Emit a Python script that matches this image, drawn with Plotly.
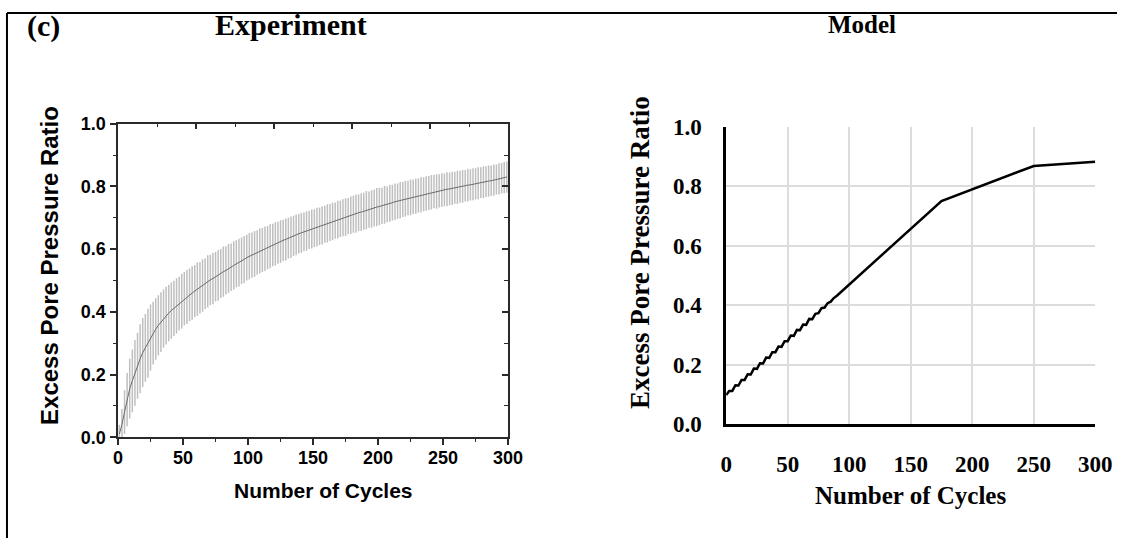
import plotly.graph_objects as go

W, H = 1134, 551

# The photographed page shows the figure slightly shifted and scaled;
# reference pixel positions are mapped to figure pixels with this measured map.
SX, OX = 0.9795, 6.0
SY, OY = 0.953, 12.5

# ---------------- data ----------------
cycles = list(range(1, 300, 2))
exp_mean = [
    0.010, 0.040, 0.080, 0.120, 0.155, 0.180, 0.205, 0.228, 0.250, 0.270,
    0.285, 0.300, 0.318, 0.332, 0.345, 0.357, 0.367, 0.378, 0.388, 0.396,
    0.404, 0.411, 0.419, 0.426, 0.434, 0.442, 0.447, 0.454, 0.460, 0.466,
    0.472, 0.477, 0.484, 0.490, 0.497, 0.502, 0.506, 0.512, 0.516, 0.522,
    0.528, 0.532, 0.538, 0.542, 0.548, 0.553, 0.557, 0.563, 0.567, 0.573,
    0.577, 0.581, 0.585, 0.589, 0.594, 0.597, 0.601, 0.605, 0.609, 0.613,
    0.617, 0.620, 0.624, 0.628, 0.631, 0.635, 0.638, 0.642, 0.645, 0.649,
    0.652, 0.655, 0.658, 0.661, 0.664, 0.667, 0.670, 0.673, 0.676, 0.679,
    0.682, 0.685, 0.688, 0.691, 0.694, 0.697, 0.700, 0.702, 0.705, 0.708,
    0.711, 0.713, 0.716, 0.718, 0.721, 0.724, 0.726, 0.728, 0.731, 0.734,
    0.736, 0.738, 0.741, 0.743, 0.746, 0.748, 0.751, 0.753, 0.756, 0.758,
    0.761, 0.763, 0.765, 0.767, 0.769, 0.771, 0.773, 0.775, 0.777, 0.779,
    0.781, 0.783, 0.784, 0.786, 0.788, 0.789, 0.791, 0.792, 0.794, 0.796,
    0.797, 0.799, 0.800, 0.802, 0.804, 0.805, 0.807, 0.808, 0.810, 0.812,
    0.813, 0.815, 0.817, 0.818, 0.820, 0.822, 0.824, 0.826, 0.828, 0.830,
]
exp_err = [
    0.030, 0.050, 0.070, 0.085, 0.095, 0.100, 0.105, 0.105, 0.110, 0.110,
    0.108, 0.110, 0.105, 0.100, 0.098, 0.096, 0.095, 0.093, 0.092, 0.090,
    0.090, 0.088, 0.088, 0.086, 0.087, 0.085, 0.086, 0.084, 0.085, 0.083,
    0.085, 0.082, 0.084, 0.081, 0.083, 0.080, 0.082, 0.079, 0.081, 0.078,
    0.080, 0.077, 0.078, 0.076, 0.077, 0.075, 0.076, 0.074, 0.075, 0.073,
    0.074, 0.072, 0.073, 0.071, 0.072, 0.070, 0.071, 0.069, 0.070, 0.068,
    0.069, 0.067, 0.068, 0.066, 0.067, 0.065, 0.066, 0.064, 0.065, 0.063,
    0.064, 0.062, 0.063, 0.061, 0.062, 0.060, 0.062, 0.060, 0.061, 0.059,
    0.061, 0.059, 0.060, 0.058, 0.060, 0.058, 0.059, 0.060, 0.058, 0.060,
    0.059, 0.061, 0.058, 0.060, 0.059, 0.061, 0.058, 0.060, 0.059, 0.061,
    0.060, 0.058, 0.060, 0.057, 0.059, 0.057, 0.058, 0.056, 0.058, 0.056,
    0.057, 0.055, 0.057, 0.055, 0.056, 0.054, 0.056, 0.054, 0.055, 0.054,
    0.055, 0.053, 0.055, 0.053, 0.054, 0.052, 0.054, 0.052, 0.053, 0.051,
    0.053, 0.051, 0.052, 0.050, 0.052, 0.050, 0.051, 0.050, 0.051, 0.049,
    0.051, 0.049, 0.050, 0.049, 0.050, 0.048, 0.050, 0.049, 0.050, 0.050,
]

model_cycles = [0, 2.5, 5, 7.5, 10, 12.5, 15, 17.5, 20, 22.5, 25, 27.5, 30,
                32.5, 35, 37.5, 40, 42.5, 45, 47.5, 50, 52.5, 55, 57.5, 60,
                62.5, 65, 67.5, 70, 72.5, 75, 77.5, 80, 82.5, 85, 87.5, 90,
                175, 250, 300]
model_ratio = [0.098, 0.112, 0.112, 0.131, 0.130, 0.149, 0.149, 0.168, 0.167,
               0.187, 0.186, 0.205, 0.204, 0.224, 0.223, 0.242, 0.242, 0.261,
               0.260, 0.279, 0.279, 0.298, 0.297, 0.317, 0.316, 0.335, 0.334,
               0.354, 0.353, 0.371, 0.373, 0.390, 0.392, 0.407, 0.412, 0.424,
               0.432, 0.750, 0.868, 0.882]

x_ticks = [0, 50, 100, 150, 200, 250, 300]
y_ticks = [0.0, 0.2, 0.4, 0.6, 0.8, 1.0]

# ---------------- helpers (reference pixel -> paper fraction) ----------------
def fx(p):
    return ((p - OX) / SX) / W

def fy(p):
    return 1 - ((p - OY) / SY) / H

SANS = "Liberation Sans, Arial, sans-serif"
SERIF = "Liberation Serif, Times New Roman, serif"

fig = go.Figure()

# Experiment: error bars (behind) and mean line
fig.add_trace(go.Scatter(
    x=cycles, y=exp_mean, mode="markers",
    marker=dict(size=1, opacity=0),
    error_y=dict(type="data", array=exp_err, visible=True,
                 color="#bfbfbf", thickness=1.5, width=0),
    xaxis="x", yaxis="y", hoverinfo="skip", showlegend=False))
fig.add_trace(go.Scatter(
    x=cycles, y=exp_mean, mode="lines",
    line=dict(color="#6a6a6a", width=1),
    xaxis="x", yaxis="y", showlegend=False))
# dummy for mirror axes
fig.add_trace(go.Scatter(x=[None], y=[None], xaxis="x2", yaxis="y2",
                         showlegend=False, hoverinfo="skip"))

# Model
fig.add_trace(go.Scatter(
    x=model_cycles, y=model_ratio, mode="lines",
    line=dict(color="black", width=2.5),
    xaxis="x3", yaxis="y3", showlegend=False))

L_dom_x = [fx(118), fx(508)]
L_dom_y = [fy(437), fy(124)]
R_dom_x = [fx(726), fx(1095)]
R_dom_y = [fy(424), fy(127)]

axis_col = "#2a2a2a"
sans_tick = dict(family=SANS, size=18, color="black", weight="bold")
serif_tick = dict(family=SERIF, size=23, color="black", weight="bold")

fig.update_layout(
    width=W, height=H,
    margin=dict(l=0, r=0, t=0, b=0),
    paper_bgcolor="white", plot_bgcolor="white",
    showlegend=False,
    xaxis=dict(domain=L_dom_x, range=[0, 300], anchor="y",
               tickvals=x_ticks, ticks="outside", ticklen=6, tickwidth=1.5,
               tickcolor=axis_col,
               minor=dict(tickvals=[25, 75, 125, 175, 225, 275],
                          ticks="outside", ticklen=3, tickwidth=1.2,
                          tickcolor=axis_col),
               showline=True, linecolor=axis_col, linewidth=1.5,
               showgrid=False, zeroline=False, tickfont=sans_tick,
               ticklabelstandoff=-3),
    yaxis=dict(domain=L_dom_y, range=[0, 1], anchor="x",
               tickvals=y_ticks, tickformat=".1f", ticks="outside",
               ticklen=6, tickwidth=1.5, tickcolor=axis_col,
               minor=dict(tickvals=[0.1, 0.3, 0.5, 0.7, 0.9],
                          ticks="outside", ticklen=3, tickwidth=1.2,
                          tickcolor=axis_col),
               showline=True, linecolor=axis_col, linewidth=1.5,
               showgrid=False, zeroline=False, tickfont=sans_tick,
               ticklabelstandoff=1),
    xaxis2=dict(domain=L_dom_x, range=[0, 300], anchor="y2",
                overlaying="x", side="top",
                tickvals=[60, 120, 180, 240], ticks="inside", ticklen=6,
                tickwidth=1.5, tickcolor=axis_col,
                minor=dict(tickvals=[30, 90, 150, 210, 270], ticks="inside",
                           ticklen=4, tickwidth=1.2, tickcolor=axis_col),
                showticklabels=False, showline=True, linecolor=axis_col,
                linewidth=1.5, showgrid=False, zeroline=False),
    yaxis2=dict(domain=L_dom_y, range=[0, 1], anchor="x2",
                overlaying="y", side="right",
                tickvals=[0.2, 0.4, 0.6, 0.8], ticks="inside", ticklen=6,
                tickwidth=1.5, tickcolor=axis_col,
                minor=dict(tickvals=[0.1, 0.3, 0.5, 0.7, 0.9], ticks="inside",
                           ticklen=4, tickwidth=1.2, tickcolor=axis_col),
                showticklabels=False, showline=True, linecolor=axis_col,
                linewidth=1.5, showgrid=False, zeroline=False),
    xaxis3=dict(domain=R_dom_x, range=[0, 300], anchor="y3",
                tickvals=x_ticks, ticks="", showgrid=True,
                gridcolor="#dcdcdc", gridwidth=2,
                showline=True, linecolor="black", linewidth=2.5,
                zeroline=False, tickfont=serif_tick, ticklabelstandoff=17),
    yaxis3=dict(domain=R_dom_y, range=[0, 1], anchor="x3",
                tickvals=y_ticks, tickformat=".1f", ticks="",
                showgrid=True, gridcolor="#dcdcdc", gridwidth=2,
                showline=True, linecolor="black", linewidth=2.5,
                zeroline=False, tickfont=serif_tick, ticklabelstandoff=17),
)

annotations = [
    dict(text="(c)", x=fx(43), y=fy(26), font=dict(family=SERIF, size=30, weight="bold")),
    dict(text="Experiment", x=fx(291), y=fy(25), font=dict(family=SERIF, size=30, weight="bold")),
    dict(text="Model", x=fx(862), y=fy(25), font=dict(family=SERIF, size=25, weight="bold")),
    dict(text="Number of Cycles", x=fx(323), y=fy(490), font=dict(family=SANS, size=21, weight="bold")),
    dict(text="Excess Pore Pressure Ratio", x=fx(50), y=fy(266), textangle=-90,
         font=dict(family=SANS, size=24, weight="bold")),
    dict(text="Number of Cycles", x=fx(910), y=fy(495), font=dict(family=SERIF, size=25, weight="bold")),
    dict(text="Excess Pore Pressure Ratio", x=fx(640), y=fy(253), textangle=-90,
         font=dict(family=SERIF, size=27, weight="bold")),
]
for a in annotations:
    a.update(xref="paper", yref="paper", showarrow=False,
             xanchor="center", yanchor="middle")
    a["font"]["color"] = "black"
fig.update_layout(annotations=annotations)

# outer frame: only the left and top edges fall inside the picture
fx_edge = 1.0 / W
fy_edge = 1 - 1.0 / H
fig.add_shape(type="line", xref="paper", yref="paper",
              x0=fx_edge, x1=fx_edge, y0=0, y1=fy_edge,
              line=dict(color="black", width=2))
fig.add_shape(type="line", xref="paper", yref="paper",
              x0=fx_edge, x1=1, y0=fy_edge, y1=fy_edge,
              line=dict(color="black", width=2))

fig.write_html("out.html")
